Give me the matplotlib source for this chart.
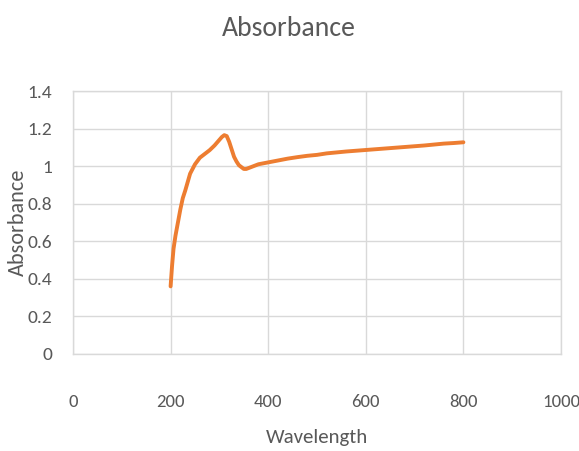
import matplotlib
matplotlib.use("Agg")
import matplotlib.pyplot as plt
from matplotlib import font_manager

wavelength = [200, 203, 206, 210, 215, 220, 225, 230, 240, 250, 260, 270, 280, 290,
              300, 305, 310, 315, 320, 325, 330, 335, 340, 345, 350, 355, 360, 370,
              380, 400, 420, 440, 460, 480, 500, 520, 540, 560, 580, 600, 620, 640,
              660, 680, 700, 720, 740, 760, 780, 800]
absorbance = [0.36, 0.47, 0.56, 0.63, 0.70, 0.77, 0.83, 0.87, 0.96, 1.01, 1.045, 1.065,
              1.085, 1.11, 1.14, 1.155, 1.165, 1.16, 1.13, 1.09, 1.05, 1.025, 1.005,
              0.995, 0.985, 0.985, 0.99, 1.0, 1.01, 1.02, 1.03, 1.04, 1.048, 1.055,
              1.06, 1.068, 1.073, 1.078, 1.082, 1.086, 1.09, 1.094, 1.098, 1.102,
              1.106, 1.11, 1.115, 1.12, 1.123, 1.127]
xticks = [0, 200, 400, 600, 800, 1000]
yticks = [0, 0.2, 0.4, 0.6, 0.8, 1, 1.2, 1.4]
ytick_labels = ["0", "0.2", "0.4", "0.6", "0.8", "1", "1.2", "1.4"]

names = {f.name for f in font_manager.fontManager.ttflist}
cands = [n for n in ["Carlito", "Roboto Condensed", "Liberation Sans Narrow", "Lato"] if n in names]
font = [cands[0], "DejaVu Sans"] if cands else ["DejaVu Sans"]

grey = "#595959"
grid = "#d9d9d9"

fig = plt.figure(figsize=(5.79, 4.51), dpi=100)
ax = fig.add_axes([73/579, 1 - 354/451, (561-73)/579, (354-91)/451])
ax.plot(wavelength, absorbance, color="#ED7D31", lw=2.8, solid_capstyle="round")
ax.set_xlim(0, 1000)
ax.set_ylim(0, 1.4)
ax.set_xticks(xticks)
ax.set_xticklabels([str(t) for t in xticks], family=font, fontsize=13.5, color=grey)
ax.set_yticks(yticks)
ax.set_yticklabels(ytick_labels, family=font, fontsize=14, color=grey)
ax.tick_params(axis="x", length=0, pad=29)
ax.tick_params(axis="y", length=0, pad=15)
ax.grid(True, color=grid, lw=1)
ax.set_axisbelow(True)
for s in ax.spines.values():
    s.set_color(grid)
    s.set_linewidth(1)

fig.text(289/579, 1 - 28/451, "Absorbance", ha="center", va="center",
         family=font, fontsize=20, color=grey)
fig.text(317/579, 1 - 438/451, "Wavelength", ha="center", va="center",
         family=font, fontsize=15, color=grey)
fig.text(18/579, 1 - 222/451, "Absorbance", ha="center", va="center",
         rotation=90, family=font, fontsize=16, color=grey)

fig.savefig("out.png", dpi=100)
